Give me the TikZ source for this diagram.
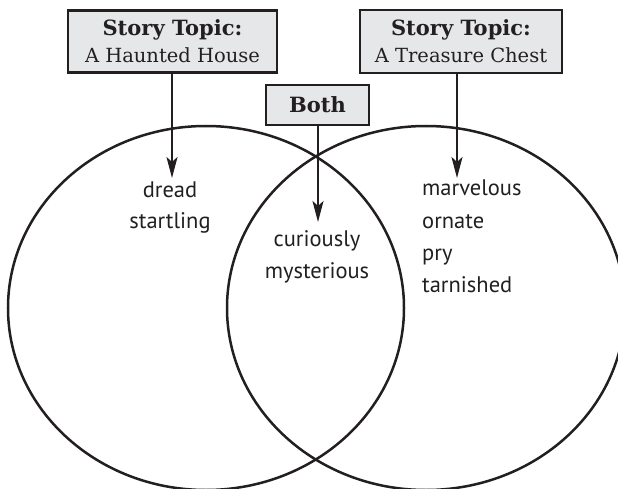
\documentclass[tikz,border=0pt]{standalone}
\usepackage{fontspec}
\usetikzlibrary{arrows.meta,shapes.geometric}
\newfontfamily\wordfont{PT Sans}
\newfontfamily\boxfont{DejaVu Serif}
\definecolor{ink}{HTML}{231F20}
\definecolor{boxfill}{HTML}{E6E7E8}
\newcommand{\headline}[1]{{\fontsize{21}{27}\selectfont\bfseries #1}}
\tikzset{
  topicbox/.style={draw=ink, fill=boxfill, line width=2.6pt, inner sep=0pt, align=center,
    font=\boxfont\fontsize{19.5}{27}\selectfont, text=ink},
  setshape/.style={ellipse, draw=ink, line width=2.5pt, inner sep=0pt},
  word/.style={font=\wordfont\fontsize{22.5}{24}\selectfont, text=ink, inner sep=0pt},
  pointer/.style={draw=ink, line width=2.4pt, -{Stealth[length=21pt,width=11pt,inset=5pt]}}
}
\begin{document}
\begin{tikzpicture}[x=1pt,y=-1pt]
\useasboundingbox (0,0) rectangle (618,489);
% sets
\node[setshape, minimum width=396pt, minimum height=364pt] (lset) at (206,308) {};
\node[setshape, minimum width=398pt, minimum height=364pt] (rset) at (426,308) {};
% boxes
\node[topicbox, minimum width=209pt, minimum height=62pt] (lbox) at (172.5,41.5)
  {\headline{Story Topic:}\\A Haunted House};
\node[topicbox, minimum width=202pt, minimum height=63pt] (rbox) at (461,41.5)
  {\headline{Story Topic:}\\A Treasure Chest};
\node[topicbox, minimum width=103pt, minimum height=40pt] (bbox) at (317.5,105)
  {\headline{Both}};
% tips
\coordinate (ltip) at (172,178);
\coordinate (rtip) at (457,178);
\coordinate (btip) at (318,222);
\draw[pointer] (ltip |- lbox.south) -- (ltip);
\draw[pointer] (rtip |- rbox.south) -- (rtip);
\draw[pointer] (btip |- bbox.south) -- (btip);
% words
\node[word, anchor=base] (w1) at (170,197) {dread};
\node[word, anchor=base] (w2) at (170,229) {startling};
\node[word, anchor=base] (w3) at (317,246) {curiously};
\node[word, anchor=base] (w4) at (317,278) {mysterious};
\node[word, anchor=base west] (w5) at (422,196) {marvelous};
\node[word, anchor=base west] (w6) at (422,228) {ornate};
\node[word, anchor=base west] (w7) at (422,260) {pry};
\node[word, anchor=base west] (w8) at (422,292) {tarnished};
\end{tikzpicture}
\end{document}
